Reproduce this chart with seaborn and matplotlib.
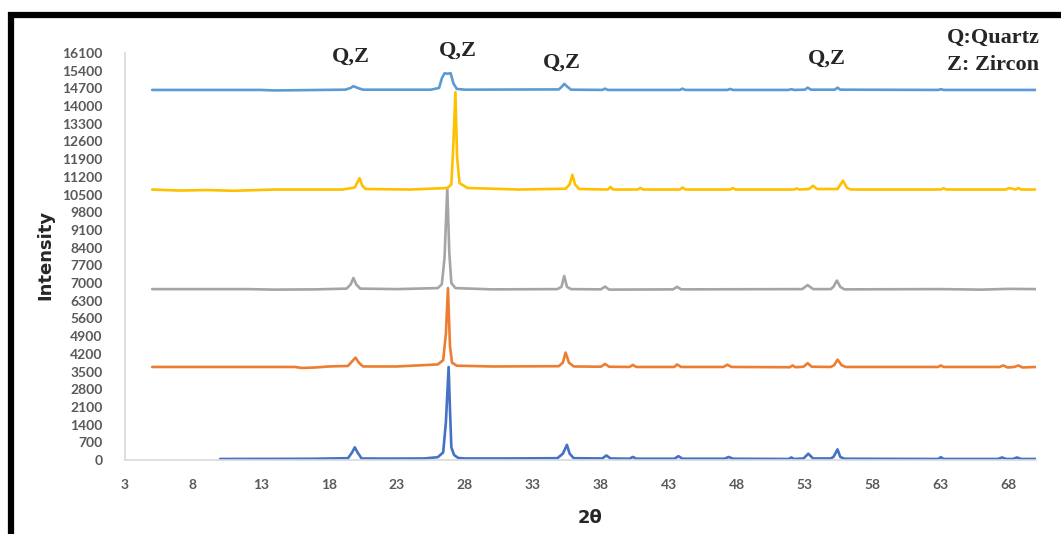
import numpy as np
import pandas as pd
import matplotlib
matplotlib.use("Agg")
import matplotlib.pyplot as plt
import seaborn as sns
from matplotlib.lines import Line2D

# 2-theta / intensity vertices, one sample per array pair
two_theta_1 = [10, 15, 17, 19.4, 19.7, 19.9, 20.1, 20.4, 22, 25, 26.0, 26.4, 26.6, 26.8, 26.9, 27.0,
               27.2, 27.5, 28, 31, 34.8, 35.2, 35.5, 35.7, 36.0, 38.1, 38.4, 38.7, 40.1, 40.35, 40.6,
               43.4, 43.7, 44.0, 47.1, 47.4, 47.7, 51.8, 52.0, 52.2, 52.9, 53.25, 53.6, 54.9, 55.1,
               55.4, 55.6, 55.9, 62.8, 63.0, 63.2, 67.2, 67.5, 67.8, 68.3, 68.6, 68.9, 70]
intensity_1 = [40, 45, 50, 70, 300, 500, 300, 60, 55, 60, 110, 300, 1500, 3680, 2000, 500,
               200, 80, 60, 60, 70, 250, 600, 250, 70, 60, 180, 60, 50, 120, 50,
               50, 150, 50, 50, 120, 50, 40, 100, 40, 60, 250, 60, 60, 120,
               420, 120, 50, 40, 110, 40, 40, 100, 40, 40, 100, 40, 40]

two_theta_2 = [5, 15.5, 16, 17, 18, 19.4, 19.7, 19.95, 20.2, 20.5, 23, 26.0, 26.4, 26.6, 26.75, 26.9,
               27.05, 27.4, 30, 34.9, 35.2, 35.4, 35.65, 36.0, 38.0, 38.3, 38.6, 40.1, 40.35, 40.6,
               43.4, 43.6, 43.9, 47.0, 47.3, 47.6, 51.9, 52.1, 52.3, 52.9, 53.2, 53.5, 54.9, 55.15,
               55.4, 55.7, 56.0, 62.8, 63.0, 63.2, 67.3, 67.6, 67.9, 68.4, 68.7, 69.0, 70]
intensity_2 = [3680, 3680, 3640, 3660, 3700, 3720, 3900, 4050, 3850, 3700, 3700, 3780, 3950, 5000, 6800, 4500,
               3850, 3730, 3700, 3710, 3850, 4250, 3850, 3700, 3690, 3800, 3690, 3680, 3760, 3680,
               3680, 3780, 3680, 3680, 3770, 3680, 3670, 3740, 3670, 3690, 3830, 3690, 3680, 3750,
               3970, 3750, 3680, 3680, 3740, 3680, 3680, 3740, 3660, 3680, 3740, 3660, 3680]

two_theta_3 = [5, 12, 14, 17, 19.3, 19.6, 19.8, 20.0, 20.3, 23, 26.0, 26.3, 26.5, 26.7, 26.85, 27.0,
               27.3, 30, 34.8, 35.1, 35.3, 35.5, 35.8, 38.0, 38.3, 38.6, 43.3, 43.6, 43.9, 52.8,
               53.2, 53.6, 54.9, 55.1, 55.35, 55.6, 55.9, 63, 66, 68, 70]
intensity_3 = [6760, 6760, 6740, 6750, 6780, 6950, 7200, 6950, 6780, 6760, 6800, 6950, 8000, 10760, 8200, 7000,
               6800, 6750, 6760, 6850, 7280, 6850, 6760, 6750, 6860, 6740, 6750, 6850, 6750, 6760,
               6920, 6760, 6760, 6850, 7100, 6850, 6750, 6760, 6740, 6770, 6760]

two_theta_4 = [5, 7, 9, 11, 14, 19, 19.9, 20.1, 20.25, 20.45, 20.7, 24, 26.7, 27.0, 27.15, 27.3, 27.42,
               27.6, 28.2, 32, 35.4, 35.7, 35.9, 36.1, 36.4, 38.5, 38.7, 38.9, 40.7, 40.9, 41.1,
               43.8, 44.0, 44.2, 47.5, 47.7, 47.9, 52.2, 52.4, 52.6, 53.3, 53.6, 53.9, 55.4, 55.8,
               56.1, 56.4, 63.0, 63.2, 63.4, 67.8, 68.0, 68.5, 68.7, 68.9, 70]
intensity_4 = [10700, 10660, 10680, 10650, 10700, 10700, 10780, 11000, 11150, 10850, 10720, 10700, 10760, 10900, 12500, 14550, 12000,
               10950, 10760, 10700, 10730, 10900, 11280, 10900, 10720, 10700, 10800, 10700, 10700, 10760, 10700,
               10700, 10780, 10700, 10700, 10760, 10700, 10700, 10740, 10700, 10720, 10850, 10720, 10720, 11050,
               10760, 10700, 10700, 10750, 10700, 10700, 10760, 10700, 10760, 10700, 10700]

two_theta_5 = [5, 13, 14, 19.2, 19.6, 19.8, 20.1, 20.5, 25.5, 26.1, 26.3, 26.5, 26.7, 26.95, 27.15, 27.4,
               28, 34.9, 35.15, 35.3, 35.5, 35.8, 38.1, 38.3, 38.5, 43.8, 44.0, 44.2, 47.3, 47.5, 47.7,
               51.8, 52.0, 52.2, 53.0, 53.2, 53.45, 55.2, 55.4, 55.6, 62.8, 63.0, 63.2, 70]
intensity_5 = [14640, 14640, 14620, 14650, 14720, 14790, 14720, 14650, 14650, 14720, 15100, 15300, 15280, 15300, 14900, 14680,
               14650, 14660, 14780, 14880, 14780, 14650, 14640, 14690, 14640, 14640, 14690, 14640, 14640, 14680, 14640,
               14640, 14670, 14640, 14650, 14730, 14650, 14650, 14730, 14650, 14640, 14670, 14640, 14640]

series_colors = ["#4472C4", "#ED7D31", "#A5A5A5", "#FFC000", "#5B9BD5"]

# phase labels: text, 2theta, intensity
label_text = ["Q,Z", "Q,Z", "Q,Z", "Q,Z"]
label_theta = [19.6, 27.5, 35.1, 54.6]
label_int = [15940, 16200, 15720, 15880]

x_ticks = list(range(3, 69, 5))
y_ticks = list(range(0, 16101, 700))

sns.set_theme(style="white")
plt.rcParams["font.family"] = ["DejaVu Sans"]

fig = plt.figure(figsize=(10.61, 5.34), dpi=100)
ax = fig.add_axes([0.1178, 0.1386, 0.8587, 0.7621])

samples = [(two_theta_1, intensity_1), (two_theta_2, intensity_2), (two_theta_3, intensity_3),
           (two_theta_4, intensity_4), (two_theta_5, intensity_5)]
for (tt, inten), col in zip(samples, series_colors):
    df = pd.DataFrame({"theta": tt, "intensity": inten})
    sns.lineplot(data=df, x="theta", y="intensity", ax=ax, color=col, linewidth=1.9,
                 estimator=None, sort=False)

ax.set_xlim(3, 70)
ax.set_ylim(0, 16100)
ax.set_xticks(x_ticks)
ax.set_yticks(y_ticks)
ax.tick_params(axis="both", length=0, labelsize=10, labelcolor="#595959")
ax.tick_params(axis="x", pad=14)
ax.tick_params(axis="y", pad=16)
for lab in ax.get_xticklabels() + ax.get_yticklabels():
    lab.set_fontfamily("Lato")
    lab.set_fontweight("bold")

for s in ["top", "right"]:
    ax.spines[s].set_visible(False)
for s in ["left", "bottom"]:
    ax.spines[s].set_color("#D9D9D9")
    ax.spines[s].set_linewidth(1.2)

ax.set_xlabel("")
ax.set_ylabel("")
fig.text(590 / 1061, 1 - 518 / 534, "2θ", fontsize=13, fontweight="bold", ha="center", va="center")
fig.text(45 / 1061, 1 - 255 / 534, "Intensity", fontsize=13, fontweight="bold", rotation=90,
         ha="center", va="center")

for t, xx, yy in zip(label_text, label_theta, label_int):
    ax.text(xx, yy, t, fontsize=16, fontweight="bold", family="Liberation Serif",
            ha="center", va="center", clip_on=False)

fig.text(947 / 1061, 1 - 38 / 534, "Q:Quartz", fontsize=16, fontweight="bold",
         family="Liberation Serif", ha="left", va="center")
fig.text(947 / 1061, 1 - 65 / 534, "Z: Zircon", fontsize=16, fontweight="bold",
         family="Liberation Serif", ha="left", va="center")

# black frame around the picture (left and top edges visible)
fig.add_artist(Line2D([11 / 1061, 11 / 1061], [0, 1 - 12 / 534], color="black", linewidth=4.5,
                      solid_capstyle="butt", transform=fig.transFigure))
fig.add_artist(Line2D([8 / 1061, 1], [1 - 14.5 / 534, 1 - 14.5 / 534], color="black", linewidth=4.5,
                      solid_capstyle="butt", transform=fig.transFigure))

fig.savefig("out.png", dpi=100)
